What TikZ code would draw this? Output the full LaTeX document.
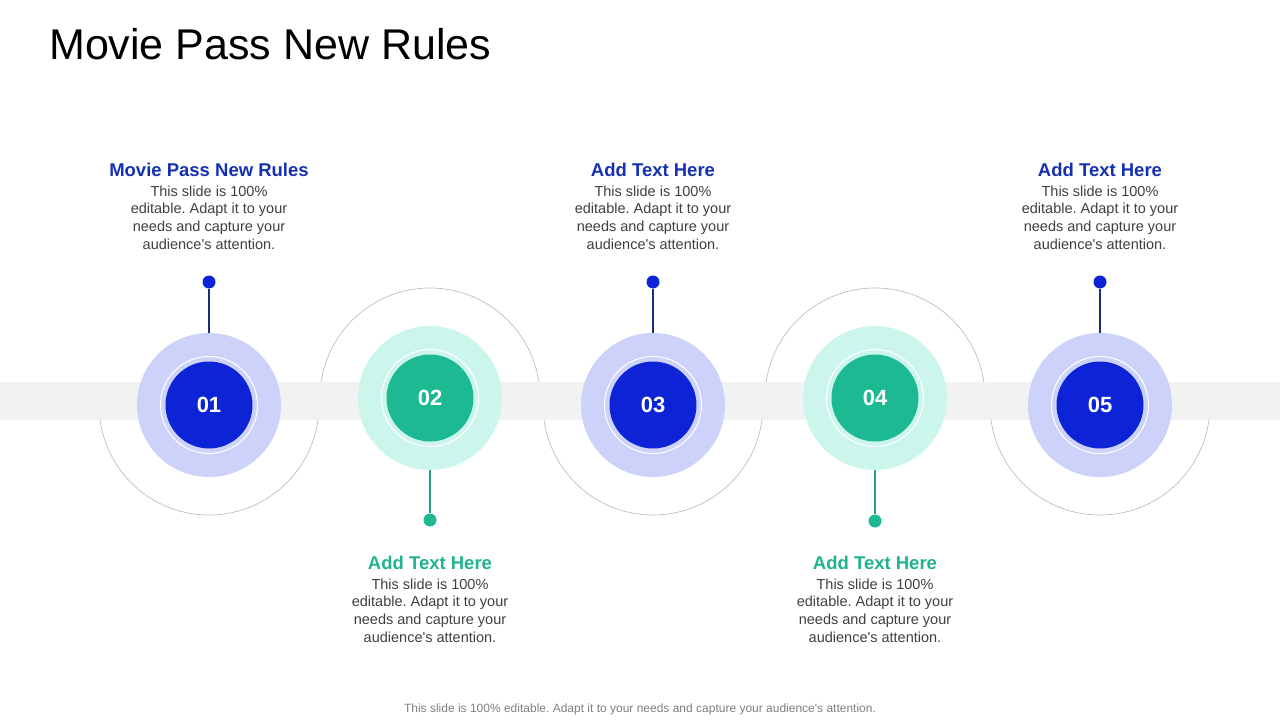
\documentclass[tikz,border=0pt]{standalone}
\usepackage{fontspec}
\setmainfont{Liberation Sans}
\usetikzlibrary{positioning}

\definecolor{deepblue}{HTML}{0C24D6}
\definecolor{paleblue}{HTML}{CCD2FA}
\definecolor{deepmint}{HTML}{1DB992}
\definecolor{palemint}{HTML}{CCF6EC}
\definecolor{headblue}{HTML}{1530B0}
\definecolor{headmint}{HTML}{1FB48E}
\definecolor{stemblue}{HTML}{1E2C80}
\definecolor{stemmint}{HTML}{2A9E88}
\definecolor{bandgrey}{HTML}{F2F2F2}
\definecolor{arcgrey}{HTML}{BEBEBE}
\definecolor{bodygrey}{HTML}{3F3F3F}
\definecolor{footgrey}{HTML}{7F7F7F}
\frenchspacing

\begin{document}
\begin{tikzpicture}[x=1pt,y=-1pt,node distance=9pt,
  halo/.style={circle,minimum size=144pt,inner sep=0pt},
  ringline/.style={circle,draw=white,line width=1pt,minimum size=97pt,inner sep=0pt},
  core/.style={circle,minimum size=87pt,inner sep=0pt,text=white,font=\fontsize{22}{22}\selectfont\bfseries},
  knob/.style={circle,minimum size=13pt,inner sep=0pt},
  headtxt/.style={anchor=base,inner sep=0pt,font=\fontsize{18.5}{20}\selectfont\bfseries},
  bodytxt/.style={align=center,inner sep=0pt,text=bodygrey,font=\fontsize{14.5}{17.7}\selectfont},
  arcline/.style={draw=arcgrey,line width=0.7pt}]
\useasboundingbox (0,0) rectangle (1280,720);

% title
\node (title) [anchor=base west,inner sep=0pt,font=\fontsize{43}{50}\selectfont] at (49,59) {Movie Pass New Rules};

% half rings behind the band
\draw[arcline] (99,405) arc[start angle=180,end angle=0,radius=110];
\draw[arcline] (320,398) arc[start angle=180,end angle=360,radius=110];
\draw[arcline] (543,405) arc[start angle=180,end angle=0,radius=110];
\draw[arcline] (765,398) arc[start angle=180,end angle=360,radius=110];
\draw[arcline] (990,405) arc[start angle=180,end angle=0,radius=110];

% band
\fill[bandgrey] (0,382) rectangle (1280,420);

% circles
\node (c1) [halo,fill=paleblue] at (209,405) {};
\node [ringline] at (c1) {};
\node (n1) [core,fill=deepblue] at (c1) {01};
\node (c2) [halo,fill=palemint] at (430,398) {};
\node [ringline] at (c2) {};
\node (n2) [core,fill=deepmint] at (c2) {02};
\node (c3) [halo,fill=paleblue] at (653,405) {};
\node [ringline] at (c3) {};
\node (n3) [core,fill=deepblue] at (c3) {03};
\node (c4) [halo,fill=palemint] at (875,398) {};
\node [ringline] at (c4) {};
\node (n4) [core,fill=deepmint] at (c4) {04};
\node (c5) [halo,fill=paleblue] at (1100,405) {};
\node [ringline] at (c5) {};
\node (n5) [core,fill=deepblue] at (c5) {05};

% pins
\node (k1) [knob,fill=deepblue] at (209,282) {};
\node (k2) [knob,fill=deepmint] at (430,520) {};
\node (k3) [knob,fill=deepblue] at (653,282) {};
\node (k4) [knob,fill=deepmint] at (875,521) {};
\node (k5) [knob,fill=deepblue] at (1100,282) {};
\draw[stemblue,line width=1.2pt] (k1) -- (c1);
\draw[stemmint,line width=1.2pt] (k2) -- (c2);
\draw[stemblue,line width=1.2pt] (k3) -- (c3);
\draw[stemmint,line width=1.2pt] (k4) -- (c4);
\draw[stemblue,line width=1.2pt] (k5) -- (c5);

% texts
\node (h1) [headtxt,text=headblue] at (209,176) {Movie Pass New Rules};
\node (b1) [bodytxt,below=of h1] {This slide is 100\%\\editable. Adapt it to your\\needs and capture your\\audience\textquotesingle s attention.};
\node (h2) [headtxt,text=headmint] at (430,569) {Add Text Here};
\node (b2) [bodytxt,below=of h2] {This slide is 100\%\\editable. Adapt it to your\\needs and capture your\\audience\textquotesingle s attention.};
\node (h3) [headtxt,text=headblue] at (653,176) {Add Text Here};
\node (b3) [bodytxt,below=of h3] {This slide is 100\%\\editable. Adapt it to your\\needs and capture your\\audience\textquotesingle s attention.};
\node (h4) [headtxt,text=headmint] at (875,569) {Add Text Here};
\node (b4) [bodytxt,below=of h4] {This slide is 100\%\\editable. Adapt it to your\\needs and capture your\\audience\textquotesingle s attention.};
\node (h5) [headtxt,text=headblue] at (1100,176) {Add Text Here};
\node (b5) [bodytxt,below=of h5] {This slide is 100\%\\editable. Adapt it to your\\needs and capture your\\audience\textquotesingle s attention.};

% footer
\node (foot) [anchor=base,inner sep=0pt,text=footgrey,font=\fontsize{12}{14}\selectfont] at (640,712) {This slide is 100\% editable. Adapt it to your needs and capture your audience\textquotesingle s attention.};
\end{tikzpicture}
\end{document}
